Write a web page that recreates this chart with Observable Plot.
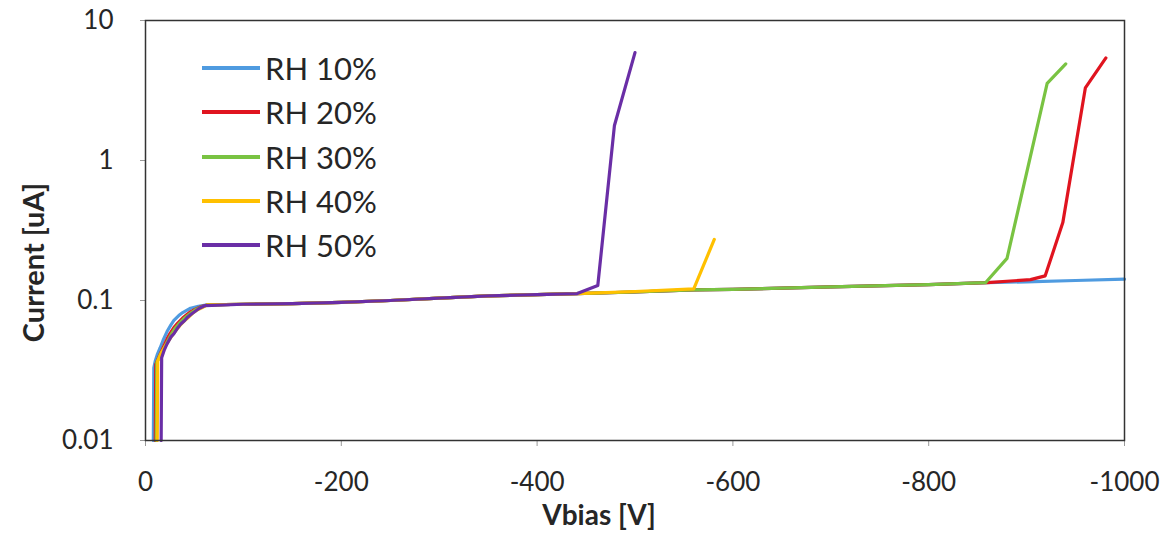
<!DOCTYPE html>
<html>
<head>
<meta charset="utf-8">
<script src="https://cdn.jsdelivr.net/npm/d3@7"></script>
<script src="https://cdn.jsdelivr.net/npm/@observablehq/plot@0.6"></script>
<style>
  html, body { margin: 0; padding: 0; background: #fff; }
  #wrap { position: relative; width: 1166px; height: 541px; font-family: Lato, "Open Sans", sans-serif; }
  #legend { position: absolute; left: 202px; top: 46px; }
  .row { display: flex; align-items: center; height: 44.3px; }
  .sw { width: 58px; height: 4px; margin-right: 5px; }
  .lab { font-size: 31px; color: #262626; }
</style>
</head>
<body>
<div id="wrap"><div id="legend"></div></div>
<script>
// Series labels and colours
const seriesNames = ["RH 10%", "RH 20%", "RH 30%", "RH 40%", "RH 50%"];
const seriesColors = ["#4f9be0", "#e0141f", "#79c342", "#ffc000", "#6a2ea6"];

// RH 10%
const vbias10 = [-8, -8.5, -10, -12, -15, -18, -22, -26, -29, -34, -38, -42, -46, -54, -63, -100, -150, -200, -250, -300, -350, -400, -440, -500, -560, -600, -700, -800, -860, -900, -950, -1000];
const curr10  = [0.01, 0.033, 0.037, 0.041, 0.046, 0.052, 0.06, 0.067, 0.072, 0.078, 0.082, 0.085, 0.088, 0.091, 0.093, 0.094, 0.095, 0.097, 0.1, 0.104, 0.108, 0.11, 0.112, 0.115, 0.119, 0.12, 0.125, 0.13, 0.134, 0.136, 0.139, 0.142];
// RH 20%
const vbias20 = [-10, -10.5, -12, -14, -18, -22, -25, -29, -33, -38, -42, -46, -50, -56, -63, -100, -150, -200, -250, -300, -350, -400, -440, -500, -560, -600, -700, -800, -860, -904, -919, -937, -960, -981];
const curr20  = [0.01, 0.035, 0.037, 0.04, 0.046, 0.053, 0.058, 0.064, 0.069, 0.075, 0.079, 0.083, 0.086, 0.09, 0.093, 0.094, 0.095, 0.097, 0.1, 0.104, 0.108, 0.11, 0.112, 0.115, 0.119, 0.12, 0.125, 0.13, 0.134, 0.141, 0.15, 0.36, 3.3, 5.4];
// RH 30%
const vbias30 = [-11, -11.5, -13, -15, -19, -23, -26, -30, -34, -39, -43, -47, -51, -57, -63, -100, -150, -200, -250, -300, -350, -400, -440, -500, -560, -600, -700, -800, -858, -880, -921, -940];
const curr30  = [0.01, 0.036, 0.038, 0.041, 0.046, 0.052, 0.057, 0.063, 0.068, 0.074, 0.078, 0.082, 0.086, 0.09, 0.093, 0.094, 0.095, 0.097, 0.1, 0.104, 0.108, 0.11, 0.112, 0.115, 0.119, 0.12, 0.125, 0.13, 0.134, 0.2, 3.55, 4.9];
// RH 40%
const vbias40 = [-12, -12.5, -14, -16, -20, -24, -27, -31, -35, -40, -44, -48, -52, -58, -63, -100, -150, -200, -250, -300, -350, -400, -440, -500, -560, -581];
const curr40  = [0.01, 0.037, 0.039, 0.042, 0.047, 0.052, 0.056, 0.061, 0.066, 0.072, 0.076, 0.081, 0.085, 0.089, 0.093, 0.094, 0.095, 0.097, 0.1, 0.104, 0.108, 0.11, 0.112, 0.116, 0.121, 0.273];
// RH 50%
const vbias50 = [-16, -16.5, -19, -22, -26, -29, -33, -36, -40, -43, -46, -49, -55, -61, -100, -150, -200, -250, -300, -350, -400, -441, -462, -479, -500];
const curr50  = [0.01, 0.039, 0.044, 0.049, 0.055, 0.058, 0.064, 0.068, 0.072, 0.076, 0.079, 0.082, 0.088, 0.092, 0.094, 0.095, 0.097, 0.1, 0.104, 0.108, 0.11, 0.112, 0.128, 1.78, 5.9];

// Axis ticks
const xTicks = [0, -200, -400, -600, -800, -1000];
const yTicks = [0.01, 0.1, 1, 10];
const xTitle = "Vbias [V]";
const yTitle = "Current [uA]";

const allV = [vbias10, vbias20, vbias30, vbias40, vbias50];
const allI = [curr10, curr20, curr30, curr40, curr50];
const rows = [];
allV.forEach((vs, s) => vs.forEach((v, i) => rows.push({series: seriesNames[s], v, c: allI[s][i]})));

const font = "Lato, 'Open Sans', sans-serif";
const chart = Plot.plot({
  width: 1166,
  height: 541,
  marginLeft: 145,
  marginRight: 42,
  marginTop: 20,
  marginBottom: 101,
  style: {fontFamily: font, fontSize: "26px", color: "#262626", background: "transparent", overflow: "visible"},
  x: {domain: [0, -1000], ticks: xTicks, tickFormat: d => String(d), label: null},
  y: {type: "log", domain: [0.01, 10], ticks: yTicks, tickFormat: d => String(d), label: null},
  color: {domain: seriesNames, range: seriesColors},
  marks: [
    Plot.axisX({ticks: xTicks, tickFormat: d => String(d), tickSize: 6, tickPadding: 26, stroke: "#999", label: null, fontSize: 26}),
    Plot.axisY({ticks: yTicks, tickFormat: d => String(d), tickSize: 5, tickPadding: 27, stroke: "#999", label: null, fontSize: 26}),
    Plot.line(rows, {x: "v", y: "c", z: "series", stroke: "series", strokeWidth: 3.2, strokeLinejoin: "round", strokeLinecap: "round"}),
    Plot.frame({stroke: "#333", strokeWidth: 1.5}),
    Plot.text([yTitle], {text: d => d, frameAnchor: "left", textAnchor: "middle", rotate: -90, dx: -111, dy: 32, fontWeight: "bold", fontSize: 29, fill: "#262626"}),
    Plot.text([xTitle], {text: d => d, frameAnchor: "bottom", textAnchor: "middle", dx: -36, dy: 84, fontWeight: "bold", fontSize: 28, fill: "#262626"})
  ]
});
document.getElementById("wrap").prepend(chart);

const leg = document.getElementById("legend");
seriesNames.forEach((n, i) => {
  const r = document.createElement("div");
  r.className = "row";
  r.innerHTML = `<div class="sw" style="background:${seriesColors[i]}"></div><span class="lab">${n}</span>`;
  leg.appendChild(r);
});
</script>
</body>
</html>
